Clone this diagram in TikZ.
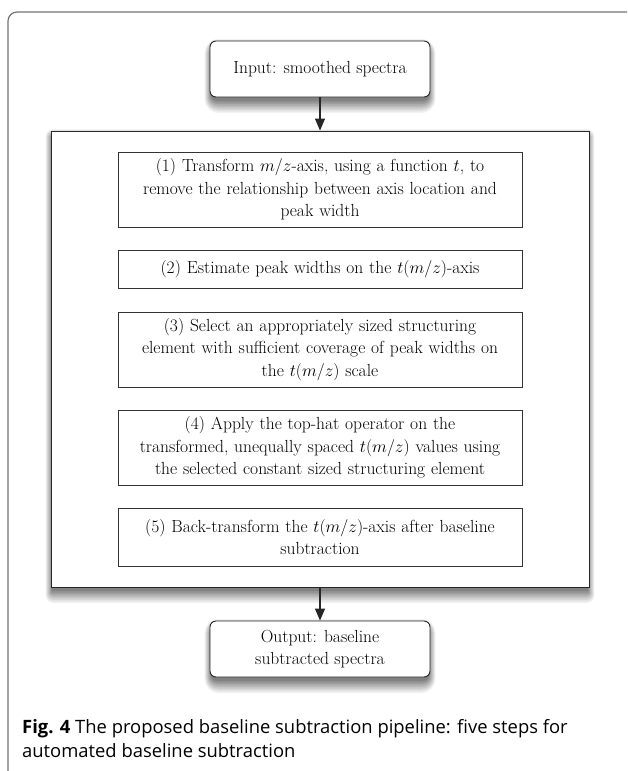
\documentclass[tikz,border=0pt]{standalone}
\usepackage{fontspec}
\newfontfamily\capfont{Open Sans}
\usetikzlibrary{arrows.meta}

\begin{document}
\begin{tikzpicture}[x=1pt,y=-1pt,
    every node/.style={font=\fontsize{17.5}{22.5}\selectfont},
    endbox/.style={draw=black!85, line width=0.9pt, rounded corners=6pt, fill=white,
      align=center, minimum width=220pt, minimum height=56pt, inner sep=0pt},
    stagebox/.style={draw=black!80, line width=0.8pt, fill=white, align=center,
      text width=390pt, inner xsep=7pt, inner ysep=0pt},
    flow/.style={-{Triangle[length=12pt,width=10pt]}, line width=1.2pt, black!85}]
  \useasboundingbox (0,0) rectangle (627,771);
  % frame round the figure
  \begin{scope}
    \clip (0,0) rectangle (627,771);
    \draw [black!55, line width=1.2pt, rounded corners=9pt] (8,12) rectangle (660,800);
  \end{scope}
  % soft shadows under the outer boxes
  \foreach \xa/\ya/\xb/\yb/\rc in {210/41/430/97/6, 51/131/589/587/0, 210/621/430/677/6} {
    \foreach \r in {8,7,6,5,4,3,2,1,0} {
      \pgfmathtruncatemacro\tone{5+5.5*(8-\r)}
      \fill [black!\tone, rounded corners=\rc pt+\r pt]
        (\xa-0.8*\r+1,\ya+6-\r) rectangle (\xb+0.8*\r-1,\yb+4+1.5*\r);
    }
  }
  \node [endbox] (input) at (320,69) {Input: smoothed spectra};
  \node [draw=black!85, line width=0.9pt, fill=white, minimum width=538pt, minimum height=456pt]
    (pipeline) at (320,359) {};
  \node [stagebox, minimum height=75pt] (trans) at (320,189.5)
    {(1) Transform $m/z$-axis, using a function $t$, to\\
     remove the relationship between axis location and\\
     peak width};
  \node [stagebox, minimum height=38pt] (estim) at (320,269)
    {(2) Estimate peak widths on the $t(m/z)$-axis};
  \node [stagebox, minimum height=75pt] (select) at (320,349.5)
    {(3) Select an appropriately sized structuring\\
     element with sufficient coverage of peak widths on\\
     the $t(m/z)$ scale};
  \node [stagebox, minimum height=75pt] (tophat) at (320,447.5)
    {(4) Apply the top-hat operator on the\\
     transformed, unequally spaced $t(m/z)$ values using\\
     the selected constant sized structuring element};
  \node [stagebox, minimum height=58pt] (back) at (320,537)
    {(5) Back-transform the $t(m/z)$-axis after baseline\\
     subtraction};
  \node [endbox] (output) at (320,649) {Output: baseline\\subtracted spectra};
  \draw [flow] (input) -- (pipeline);
  \draw [flow] (pipeline) -- (output);
  % caption
  \node [anchor=north west, align=left, inner sep=0pt,
    font=\capfont\fontsize{18.4}{24}\selectfont] (caption) at (22,719)
    {\textbf{Fig. 4} The proposed baseline subtraction pipeline: five steps for\\
     automated baseline subtraction};
\end{tikzpicture}
\end{document}
